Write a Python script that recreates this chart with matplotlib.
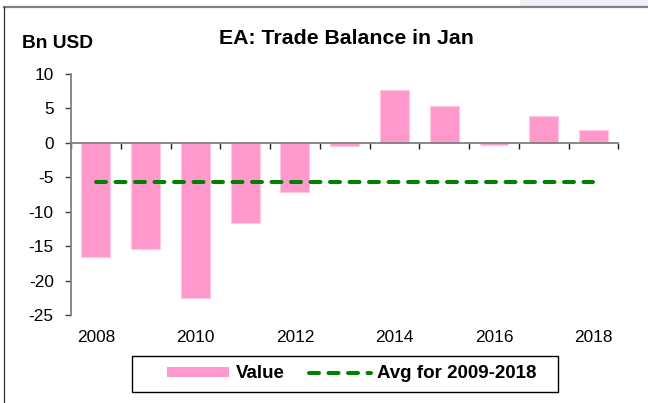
import matplotlib
matplotlib.use("Agg")
import matplotlib.pyplot as plt
from matplotlib.lines import Line2D
from matplotlib.patches import Rectangle, Patch
import numpy as np

# data
years = [2008, 2009, 2010, 2011, 2012, 2013, 2014, 2015, 2016, 2017, 2018]
values = [-16.6, -15.4, -22.6, -11.7, -7.1, -0.5, 7.65, 5.4, -0.25, 3.9, 1.85]
avg_value = -5.7
yticks = [10, 5, 0, -5, -10, -15, -20, -25]

PINK = "#FF99CC"
GREEN = "#008000"
plt.rcParams["font.family"] = ["Liberation Sans", "DejaVu Sans"]

fig = plt.figure(figsize=(6.48, 4.03), dpi=100)
ax = fig.add_axes([0.1096, 0.2184, 0.8446, 0.598])

x = np.arange(len(years))
ax.bar(x, values, width=0.58, color=PINK, edgecolor="#FFC8E2", linewidth=0.8, zorder=2)
ax.plot([x[0], x[-1]], [avg_value, avg_value], color=GREEN, linewidth=2.88,
        dashes=(2.5, 2.375), dash_capstyle="round", zorder=3)

ax.set_xlim(-0.5, len(years) - 0.5)
ax.set_ylim(-25, 10)
ax.set_yticks(yticks)
ax.set_yticklabels([str(v) for v in yticks], fontsize=12.4)
ax.tick_params(axis="y", direction="out", length=4.5, width=1, color="#404040", pad=8)

# category boundaries carry the ticks on the zero line
ax.set_xticks(np.arange(-0.5, len(years), 1.0))
ax.tick_params(axis="x", direction="out", length=4, width=1, color="#202020", labelbottom=False)
for xi, yr in zip(x, years):
    if yr % 2 == 0:
        ax.text(xi, -0.092, str(yr), transform=ax.get_xaxis_transform(),
                ha="center", va="center", fontsize=12.4)

for side in ["top", "right"]:
    ax.spines[side].set_visible(False)
ax.spines["bottom"].set_position(("data", 0))
ax.spines["bottom"].set_zorder(4)
for side in ["left", "bottom"]:
    ax.spines[side].set_color("#808080")
    ax.spines[side].set_linewidth(1.3)

fig.text(0.534, 1 - 38 / 403, "EA: Trade Balance in Jan", ha="center", va="center",
         fontsize=15.3, fontweight="bold")
fig.text(22 / 648, 1 - 44 / 403, "Bn USD", ha="left", va="center",
         fontsize=13.8, fontweight="bold")

handles = [Patch(facecolor=PINK, edgecolor="none"),
           Line2D([], [], color=GREEN, linewidth=2.88, dashes=(2.5, 2.375), dash_capstyle="round")]
leg = fig.legend(handles, ["Value", "Avg for 2009-2018"], loc="center",
                 bbox_to_anchor=(352 / 648, 1 - 374 / 403), ncol=2,
                 frameon=False, prop={"weight": "bold", "size": 13.5},
                 handlelength=3.3, handleheight=0.5, columnspacing=1.3, handletextpad=0.35,
                 borderpad=0.3, borderaxespad=0)
fig.add_artist(Rectangle((132 / 648, 1 - 392 / 403), 426 / 648, 36 / 403, transform=fig.transFigure,
                         facecolor="none", edgecolor="black", linewidth=1.0))

# outer frame (top and left edges) and the faint band at the top right
fig.add_artist(Rectangle((520 / 648, 1 - 6 / 403), 128 / 648, 6 / 403, transform=fig.transFigure,
                         facecolor="#EEEEF8", edgecolor="none"))
fig.add_artist(Line2D([4 / 648, 1], [1 - 6.5 / 403, 1 - 6.5 / 403], transform=fig.transFigure,
                      color="#808080", linewidth=1.6))
fig.add_artist(Line2D([4 / 648, 4 / 648], [0, 1 - 6.5 / 403], transform=fig.transFigure,
                      color="#303030", linewidth=0.9))

fig.savefig("out.png", dpi=100)
